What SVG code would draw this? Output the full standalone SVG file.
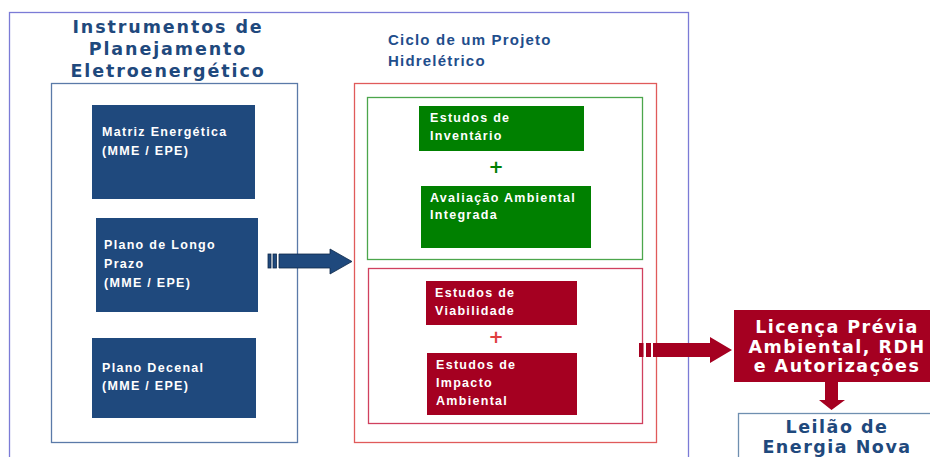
<svg xmlns="http://www.w3.org/2000/svg" width="930" height="457" viewBox="0 0 930 457">
<defs>
<style>
.frame{fill:none;stroke-width:1.3}
.blueBox{fill:#1f497d}
.greenBox{fill:#008000}
.redBox{fill:#a50021}
.boxText{font-family:"Liberation Sans",Arial,sans-serif;font-weight:bold;font-size:12.5px;letter-spacing:1.3px;fill:#ffffff}
.bigTitle{font-family:"DejaVu Sans",Verdana,sans-serif;font-weight:bold;font-size:17.5px;letter-spacing:1.9px;fill:#1f497d;text-anchor:middle}
.subTitle{font-family:"Liberation Sans",Arial,sans-serif;font-weight:bold;font-size:15px;letter-spacing:1.2px;fill:#1f4e8c}
.plus{font-family:"DejaVu Sans",Verdana,sans-serif;font-weight:bold;font-size:18px;text-anchor:middle}
.bigWhite{font-family:"DejaVu Sans",Verdana,sans-serif;font-weight:bold;font-size:17.5px;letter-spacing:1.5px;fill:#ffffff;text-anchor:middle}
.bigBlue{font-family:"DejaVu Sans",Verdana,sans-serif;font-weight:bold;font-size:17.5px;letter-spacing:1.5px;fill:#1f497d;text-anchor:middle}
</style>
</defs>
<rect width="930" height="457" fill="#ffffff"/>

<!-- outer frame -->
<g id="outer-frame">
<rect x="9.5" y="12.5" width="679" height="470" class="frame" stroke="#7b7bd6"/>
</g>

<!-- left column -->
<g id="instrumentos">
<text class="bigTitle"><tspan x="168" y="33">Instrumentos de</tspan><tspan x="168" y="55">Planejamento</tspan><tspan x="168" y="77">Eletroenergético</tspan></text>
<rect x="51.5" y="83.5" width="246" height="359" class="frame" stroke="#5a7aa8"/>
</g>

<g id="matriz">
<rect x="92" y="105" width="163" height="94" class="blueBox"/>
<text class="boxText"><tspan x="102" y="136">Matriz Energética</tspan><tspan x="102" y="155">(MME / EPE)</tspan></text>
</g>

<g id="plano-longo">
<rect x="96" y="218" width="162" height="94" class="blueBox"/>
<text class="boxText"><tspan x="104" y="249">Plano de Longo</tspan><tspan x="104" y="268">Prazo</tspan><tspan x="104" y="287">(MME / EPE)</tspan></text>
</g>

<g id="plano-decenal">
<rect x="92" y="338" width="164" height="80" class="blueBox"/>
<text class="boxText"><tspan x="102" y="372">Plano Decenal</tspan><tspan x="102" y="390">(MME / EPE)</tspan></text>
</g>

<!-- middle column -->
<g id="ciclo">
<text class="subTitle"><tspan x="388" y="45">Ciclo de um Projeto</tspan><tspan x="388" y="66">Hidrelétrico</tspan></text>
<rect x="354.5" y="83.5" width="302" height="359" class="frame" stroke="#e05a5a"/>
</g>

<g id="grupo-inventario">
<rect x="367.5" y="97.5" width="275" height="162" class="frame" stroke="#4ca64c"/>
</g>

<g id="inventario">
<rect x="419" y="106" width="165" height="45" class="greenBox"/>
<text class="boxText"><tspan x="430" y="122">Estudos de</tspan><tspan x="430" y="140">Inventário</tspan></text>
</g>

<g id="plus-green">
<text class="plus" x="496" y="173" fill="#008000">+</text>
</g>

<g id="avaliacao">
<rect x="421" y="186" width="170" height="62" class="greenBox"/>
<text class="boxText"><tspan x="430" y="202">Avaliação Ambiental</tspan><tspan x="430" y="219">Integrada</tspan></text>
</g>

<g id="grupo-viabilidade">
<rect x="368.5" y="268.5" width="274" height="155" class="frame" stroke="#d0405e"/>
</g>

<g id="viabilidade">
<rect x="426" y="281" width="151" height="44" class="redBox"/>
<text class="boxText"><tspan x="435" y="297">Estudos de</tspan><tspan x="435" y="315">Viabilidade</tspan></text>
</g>

<g id="plus-red">
<text class="plus" x="496" y="343" fill="#e04040">+</text>
</g>

<g id="impacto">
<rect x="427" y="353" width="150" height="62" class="redBox"/>
<text class="boxText"><tspan x="436" y="369">Estudos de</tspan><tspan x="436" y="387">Impacto</tspan><tspan x="436" y="405">Ambiental</tspan></text>
</g>

<!-- right column -->
<g id="licenca">
<rect x="734" y="310" width="210" height="72" class="redBox"/>
<text class="bigWhite"><tspan x="837" y="333">Licença Prévia</tspan><tspan x="837" y="353">Ambiental, RDH</tspan><tspan x="837" y="372">e Autorizações</tspan></text>
</g>

<g id="leilao">
<rect x="738.5" y="413.5" width="210" height="60" fill="#ffffff" stroke="#6f8fb0" stroke-width="1.3"/>
<text class="bigBlue"><tspan x="837" y="433">Leilão de</tspan><tspan x="837" y="453">Energia Nova</tspan></text>
</g>

<!-- connectors -->
<g id="connectors">
<g id="arrow-blue" fill="#1f497d" stroke="#0f2a4a" stroke-width="0.8">
<rect x="268" y="254" width="3" height="14"/>
<rect x="273" y="254" width="3.5" height="14"/>
<polygon points="279,254 330,254 330,249 352,261.5 330,274 330,268 279,268"/>
</g>
<g id="arrow-red" fill="#a50021">
<rect x="639" y="343" width="4.5" height="14"/>
<rect x="646" y="343" width="5" height="14"/>
<polygon points="653,343 710,343 710,337 732,350 710,363 710,357 653,357"/>
</g>
<g id="arrow-down" fill="#a50021">
<polygon points="825,382 838,382 838,400 845,400 831.5,410 819,400 825,400"/>
</g>
</g>
</svg>
